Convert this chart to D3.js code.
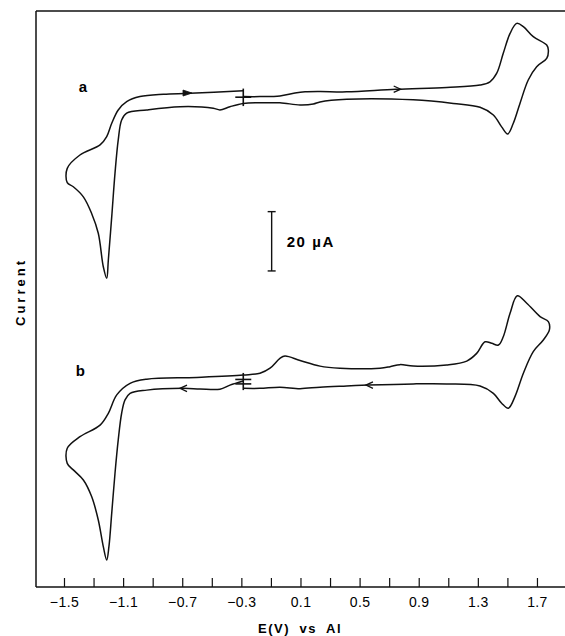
<!DOCTYPE html>
<html>
<head>
<meta charset="utf-8">
<script src="https://cdn.jsdelivr.net/npm/d3@7/dist/d3.min.js"></script>
<style>
  html, body { margin: 0; padding: 0; background: #fff; }
  svg { display: block; }
  text { font-family: "Liberation Sans", Arial, Helvetica, sans-serif; fill: #000; }
</style>
</head>
<body>
<svg id="chart" width="565" height="636"></svg>
<script>
// ---------- DATA (E in V vs Al, current in µA, curves drawn with their vertical offset) ----------
const tickValues = [-1.5,-1.3,-1.1,-0.9,-0.7,-0.5,-0.3,-0.1,0.1,0.3,0.5,0.7,0.9,1.1,1.3,1.5,1.7];
const tickLabels = ["−1.5","−1.1","−0.7","−0.3","0.1","0.5","0.9","1.3","1.7"];
const labeledTicks = [-1.5,-1.1,-0.7,-0.3,0.1,0.5,0.9,1.3,1.7];

// Curve a (scan order: start at -0.3 V, anodic to 1.78 V, back to -1.48 V, back to -0.3 V)
const E_A = [-0.287,-0.174,-0.039,0.063,0.131,0.232,0.413,0.746,1.089,1.315,1.382,1.428,1.472,1.518,1.563,1.608,1.675,1.766,1.777,1.766,1.698,1.641,1.585,1.540,1.502,1.461,1.405,1.315,1.134,0.863,0.413,0.232,0.187,0.097,-0.039,-0.174,-0.287,-0.377,-0.445,-0.490,-0.715,-0.940,-1.076,-1.110,-1.133,-1.155,-1.177,-1.200,-1.211,-1.234,-1.268,-1.313,-1.369,-1.437,-1.478,-1.478,-1.392,-1.256,-1.211,-1.177,-1.133,-1.076,-0.986,-0.828,-0.647,-0.287];
const I_A = [165.4,165.4,165.6,166.6,167.0,167.1,167.0,167.9,168.5,169.3,170.4,173.3,180.0,186.7,190.1,189.0,185.6,182.8,181.1,178.3,175.5,171.0,163.1,156.4,152.8,155.2,159.2,161.8,163.1,164.3,164.5,163.6,162.9,162.6,163.3,163.3,163.1,162.0,160.9,161.5,162.0,160.9,159.8,157.5,150.8,139.5,124.9,110.3,104.1,108.0,119.3,126.0,131.6,135.0,136.4,141.2,145.7,149.1,151.9,156.4,160.9,163.7,165.4,166.2,166.5,167.4];

// Curve b (scan order: start at -0.3 V, cathodic to -1.48 V, anodic to 1.78 V, back to -0.3 V)
const E_B = [-0.287,-0.377,-0.445,-0.580,-0.695,-0.940,-1.053,-1.087,-1.110,-1.133,-1.155,-1.177,-1.196,-1.211,-1.234,-1.268,-1.313,-1.369,-1.437,-1.478,-1.478,-1.392,-1.256,-1.200,-1.143,-1.053,-0.940,-0.602,-0.287,-0.174,-0.106,-0.039,-0.005,0.097,0.232,0.367,0.638,0.706,0.773,0.863,1.089,1.225,1.292,1.349,1.394,1.439,1.472,1.518,1.567,1.631,1.721,1.777,1.784,1.743,1.675,1.608,1.551,1.506,1.461,1.405,1.315,1.089,0.863,0.559,0.413,0.232,0.097,-0.039,-0.174,-0.287];
const I_B = [69.5,68.1,66.7,66.8,67.0,66.4,65.3,63.1,58.6,49.6,38.3,24.9,13.6,9.1,13.6,22.6,30.5,36.1,39.5,41.7,46.8,50.7,54.6,58.6,64.8,68.7,70.1,70.7,71.5,72.1,73.8,77.1,77.9,76.4,74.5,73.8,73.8,74.3,75.0,74.5,74.9,76.2,78.8,82.7,82.2,81.6,84.4,92.3,98.2,95.7,91.2,89.5,86.7,83.3,79.4,72.1,64.2,60.3,62.0,65.3,67.8,68.5,68.5,68.1,67.8,67.4,66.9,67.4,67.0,67.0];

// Scan-direction arrows: [E, I, direction(+1 right / -1 left), filled]
const arrowsE = [-0.634, 0.778, -0.715, 0.543];
const arrowsI = [166.6, 167.9, 67.0, 68.1];
const arrowsDir = [1, 1, -1, -1];
const arrowsFilled = [true, false, false, false];

// Start-potential markers: E, vertical extent, horizontal bar currents
const startE = -0.287;
const startA = { lo: 162.2, hi: 168.1, bars: [165.2] };
const startB = { lo: 66.4, hi: 72.2, bars: [70.0, 68.5] };

// Scale bar
const scaleBarValue = 20;   // µA
const scaleBarE = -0.095;
const scaleBarBase = 106.6;

const curveLabels = [{ t: "a", E: -1.40, I: 167.0 }, { t: "b", E: -1.42, I: 71.2 }];

// ---------- CHART ----------
(function () {
const svg = d3.select("#chart");
const mL = 36, mT = 11, mB = 587, mR = 565;

const x = d3.scaleLinear().domain([-1.6894, 1.8897]).range([mL, mR]);
const y = d3.scaleLinear().domain([0, 194.27]).range([mB, mT]);

const ink = "#111";

// Frame: left and top lines
svg.append("line").attr("x1", mL).attr("x2", mL).attr("y1", mT).attr("y2", mB)
  .attr("stroke", ink).attr("stroke-width", 1.5);
svg.append("line").attr("x1", mL).attr("x2", mR).attr("y1", mT).attr("y2", mT)
  .attr("stroke", ink).attr("stroke-width", 1.6);

// Bottom axis
const axis = d3.axisBottom(x)
  .tickValues(tickValues)
  .tickSize(-9)
  .tickPadding(10)
  .tickFormat(v => {
    const idx = labeledTicks.findIndex(t => Math.abs(t - v) < 1e-6);
    return idx >= 0 ? tickLabels[idx] : "";
  });
const gAxis = svg.append("g").attr("transform", `translate(0,${mB})`).call(axis);
gAxis.select(".domain").remove();
gAxis.selectAll(".tick line").attr("stroke", ink).attr("stroke-width", 1.2);
gAxis.selectAll(".tick text").attr("font-size", 14).attr("fill", "#000")
  .attr("letter-spacing", 0.4)
  .attr("font-family", "'Liberation Sans', Arial, sans-serif");
svg.append("line").attr("x1", mL).attr("x2", mR).attr("y1", mB).attr("y2", mB)
  .attr("stroke", ink).attr("stroke-width", 1.6);

// Axis titles
svg.append("text").attr("x", 300).attr("y", 633).attr("text-anchor", "middle")
  .attr("font-size", 13).attr("font-weight", "bold")
  .attr("letter-spacing", 1.6).attr("word-spacing", 4)
  .text("E(V) vs Al");
svg.append("text").attr("transform", "translate(25,292) rotate(-90)")
  .attr("text-anchor", "middle").attr("font-size", 13).attr("font-weight", "bold")
  .attr("letter-spacing", 3)
  .text("Current");

// Curves
const line = d3.line().x(d => x(d[0])).y(d => y(d[1])).curve(d3.curveCatmullRom.alpha(0.5));
const dataA = E_A.map((e, i) => [e, I_A[i]]);
const dataB = E_B.map((e, i) => [e, I_B[i]]);
[dataA, dataB].forEach(d => {
  svg.append("path").attr("d", line(d)).attr("fill", "none")
    .attr("stroke", ink).attr("stroke-width", 1.5).attr("stroke-linejoin", "round");
});

// Arrows
arrowsE.forEach((e, i) => {
  const g = svg.append("g").attr("transform", `translate(${x(e)},${y(arrowsI[i])}) scale(${arrowsDir[i]},1)`);
  if (arrowsFilled[i]) {
    g.append("path").attr("d", "M-9,-3 L0,0 L-9,3 Z").attr("fill", ink).attr("stroke", ink).attr("stroke-width", 0.8);
  } else {
    g.append("path").attr("d", "M-7,-3.2 L0,0 L-7,3.2").attr("fill", "none").attr("stroke", ink).attr("stroke-width", 1.3);
  }
});

// Start markers
[startA, startB].forEach(m => {
  svg.append("line").attr("x1", x(startE)).attr("x2", x(startE)).attr("y1", y(m.hi)).attr("y2", y(m.lo))
    .attr("stroke", ink).attr("stroke-width", 1.6);
  m.bars.forEach(b => {
    svg.append("line").attr("x1", x(startE) - 8).attr("x2", x(startE) + 8).attr("y1", y(b)).attr("y2", y(b))
      .attr("stroke", ink).attr("stroke-width", 1.6);
  });
});

// Scale bar
const sbX = x(scaleBarE), sbY0 = y(scaleBarBase), sbY1 = y(scaleBarBase + scaleBarValue);
svg.append("line").attr("x1", sbX).attr("x2", sbX).attr("y1", sbY1).attr("y2", sbY0).attr("stroke", ink).attr("stroke-width", 1.4);
[sbY0, sbY1].forEach(yy => svg.append("line").attr("x1", sbX - 4).attr("x2", sbX + 4).attr("y1", yy).attr("y2", yy)
  .attr("stroke", ink).attr("stroke-width", 1.4));
svg.append("text").attr("x", sbX + 15).attr("y", (sbY0 + sbY1) / 2 + 5.5)
  .attr("font-size", 15).attr("font-weight", "bold").attr("letter-spacing", 1.6)
  .text(scaleBarValue + " µA");

// Curve labels
curveLabels.forEach(l => {
  svg.append("text").attr("x", x(l.E)).attr("y", y(l.I)).attr("font-size", 15).attr("font-weight", "bold").text(l.t);
});
})();
</script>
</body>
</html>
